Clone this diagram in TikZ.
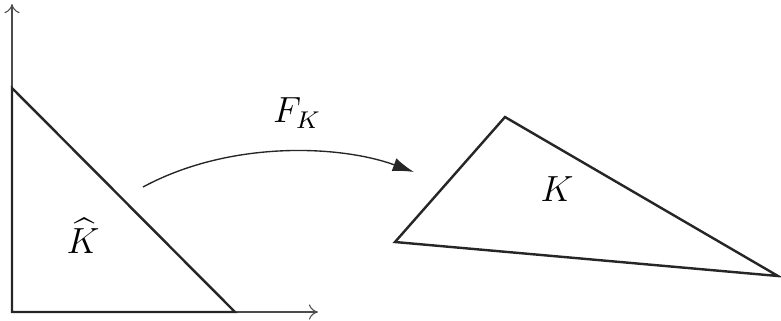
\documentclass[tikz,border=0pt]{standalone}
\usepackage{amsmath,amssymb}
\usetikzlibrary{arrows.meta}

\begin{document}
\begin{tikzpicture}[
    x=0.33pt, y=-0.33pt,
    axis/.style={draw=black!70, line width=0.35pt, -{To[length=3pt,width=5pt]}},
    elem/.style={draw=black!85, line width=0.8pt, line join=miter},
    map/.style={draw=black!85, line width=0.45pt, -{Latex[length=7pt,width=4.5pt]}},
    lbl/.style={font=\large, inner sep=1pt}
]
\useasboundingbox (0,0) rectangle (781,320);

% Axes
\coordinate (O) at (12,312);
\coordinate (xend) at (318,312);
\coordinate (yend) at (12,4);
\draw[axis] (O) -- (xend);
\draw[axis] (O) -- (yend);

% Reference element
\coordinate (hatA) at (12,312);
\coordinate (hatB) at (235,312);
\coordinate (hatC) at (12,88);
\draw[elem] (hatA) -- (hatB) -- (hatC) -- cycle;
\node[lbl] (hatK) at (83,236) {$\widehat{K}$};

% Physical element
\coordinate (kA) at (395,242);
\coordinate (kB) at (505,117);
\coordinate (kC) at (778,276);
\draw[elem] (kA) -- (kB) -- (kC) -- cycle;
\node[lbl] (physK) at (557,189) {$K$};

% Mapping
\coordinate (mapS) at (143,187);
\coordinate (mapE) at (414,172);
\draw[map] (mapS) .. controls (230,140) and (340,145) .. (mapE);
\node[lbl] (FK) at (297,113) {$F_K$};

\end{tikzpicture}
\end{document}
